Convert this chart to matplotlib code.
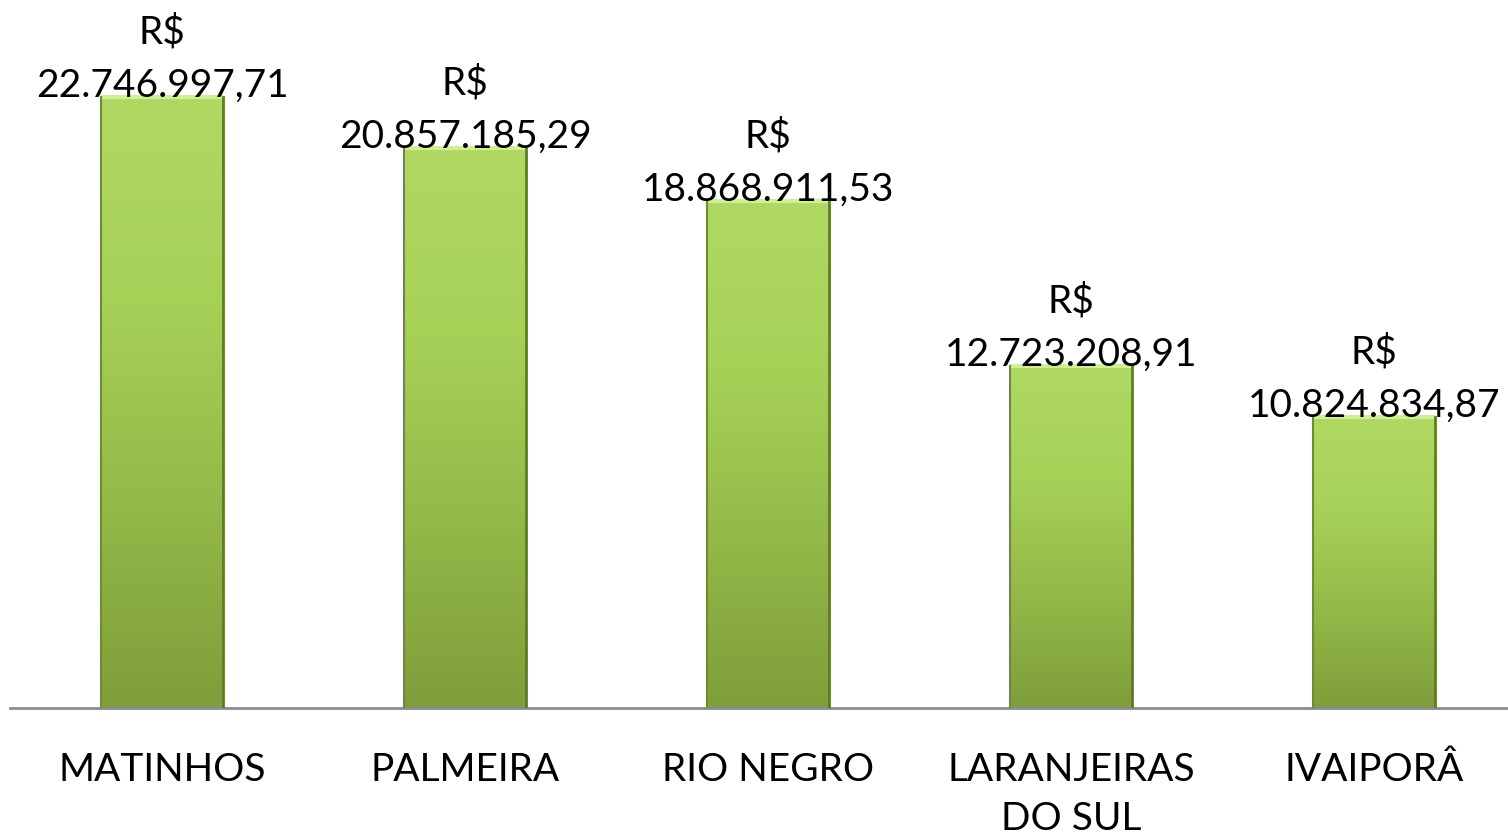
import matplotlib
matplotlib.use("Agg")
import matplotlib.pyplot as plt
import numpy as np
from matplotlib.colors import LinearSegmentedColormap

cidades = ["MATINHOS", "PALMEIRA", "RIO NEGRO", "LARANJEIRAS\nDO SUL", "IVAIPORÂ"]
valores = [22746997.71, 20857185.29, 18868911.53, 12723208.91, 10824834.87]
rotulos = ["R$\n22.746.997,71", "R$\n20.857.185,29", "R$\n18.868.911,53",
           "R$\n12.723.208,91", "R$\n10.824.834,87"]

plt.rcParams['font.family'] = ['Lato', 'DejaVu Sans']

fig = plt.figure(figsize=(15.08, 8.38), dpi=100)
ax = fig.add_axes([10 / 1508, 130 / 838, 1498 / 1508, 708 / 838])

x = np.arange(len(cidades))
largura = 0.4
bars = ax.bar(x, valores, width=largura, color="none", edgecolor="none", zorder=2)

grad = LinearSegmentedColormap.from_list("verde", ["#7f9e3b", "#93b948", "#a6d157", "#b0d963"])
g = np.linspace(0, 1, 256).reshape(-1, 1)
for b in bars:
    x0, w, h = b.get_x(), b.get_width(), b.get_height()
    ax.imshow(g, cmap=grad, aspect="auto", origin="lower",
              extent=[x0, x0 + w, 0, h], zorder=2)
    # bordas com efeito de chanfro
    ax.plot([x0, x0 + w], [h, h], color="#d2ef98", lw=3, zorder=3, solid_capstyle="butt")
    ax.plot([x0, x0], [0, h], color="#6f8c30", lw=1.5, zorder=3)
    ax.plot([x0 + w, x0 + w], [0, h], color="#5f7a28", lw=2, zorder=3)

for b, txt in zip(bars, rotulos):
    ax.annotate(txt, (b.get_x() + b.get_width() / 2, b.get_height()),
                xytext=(0, -5), textcoords="offset points",
                ha="center", va="bottom", fontsize=28, linespacing=1.6, zorder=4)

ax.set_xlim(-0.5017, 4.442)
ax.set_ylim(0, 26.36e6)
ax.set_xticks(x)
ax.set_xticklabels(cidades, fontsize=28, linespacing=1.45)
ax.tick_params(axis="x", length=0, pad=32)
ax.set_yticks([])
for s in ["top", "right", "left"]:
    ax.spines[s].set_visible(False)
ax.spines["bottom"].set_color("#8c8c8c")
ax.spines["bottom"].set_linewidth(2)

plt.savefig("out.png", dpi=100)
